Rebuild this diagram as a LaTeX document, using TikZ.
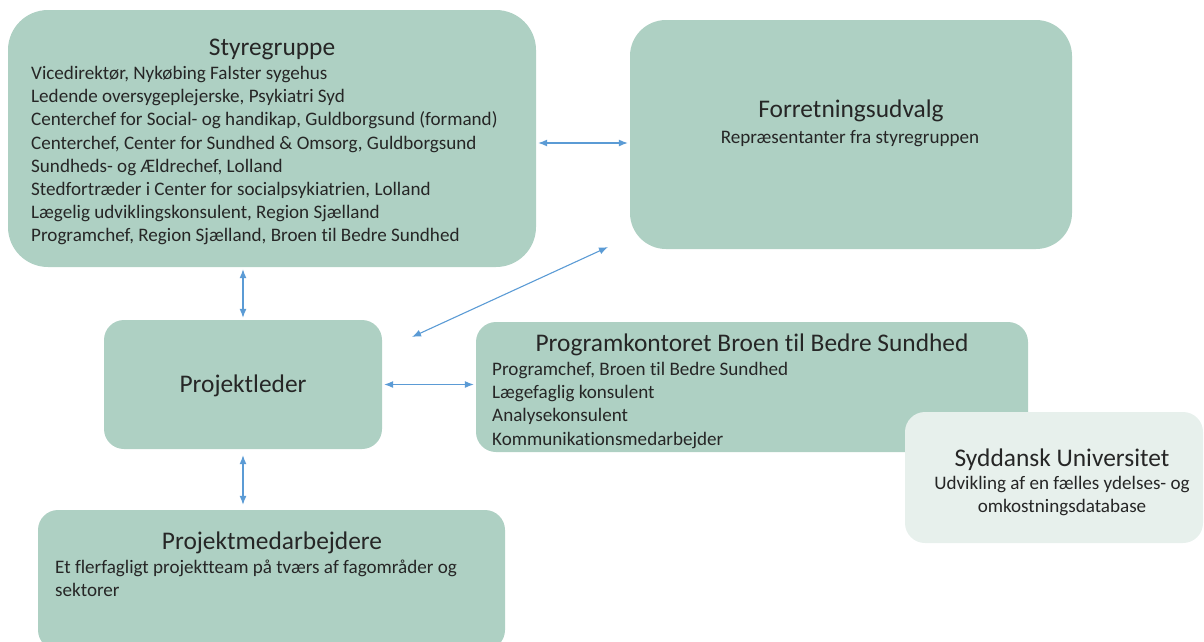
\documentclass[tikz,border=0pt]{standalone}
\usepackage{fontspec}
\setmainfont{Carlito}[Ligatures=NoCommon]
\usetikzlibrary{arrows.meta}

\definecolor{boxgreen}{RGB}{174,208,195}
\definecolor{boxpale}{RGB}{231,240,236}
\definecolor{linkblue}{RGB}{91,155,213}
\definecolor{ink}{RGB}{38,38,38}

\begin{document}
\begin{tikzpicture}[x=1pt,y=-1pt,
  box/.style = {fill=boxgreen, draw=none, inner sep=0pt},
  title/.style = {text=ink, inner sep=0pt, font=\fontsize{25.4}{30}\selectfont},
  items/.style = {text=ink, inner sep=0pt, align=left, font=\fontsize{19.1}{23.2}\selectfont},
  link/.style = {{Latex[length=9pt,width=7pt]}-{Latex[length=9pt,width=7pt]}, draw=linkblue, line width=1.1pt, shorten <=2pt, shorten >=2pt}]
\useasboundingbox (0,0) rectangle (1204,641);
\begin{scope}
\clip (0,0) rectangle (1204,641);
% boxes
\node[box, rounded corners=40pt, minimum width=528pt, minimum height=257pt] (sty) at (272,138.5) {};
\node[box, rounded corners=36pt, minimum width=442pt, minimum height=229pt] (fu) at (851,134.5) {};
\node[box, rounded corners=20pt, minimum width=278pt, minimum height=129pt] (pl) at (243,384.5) {};
\node[box, rounded corners=20pt, minimum width=552pt, minimum height=130pt] (pk) at (752,387) {};
\node[box, fill=boxpale, rounded corners=20pt, minimum width=298pt, minimum height=131pt] (su) at (1054,477.5) {};
\node[box, rounded corners=20pt, minimum width=467pt, minimum height=140pt] (pm) at (271.5,580) {};
\end{scope}

% texts
\node[title, anchor=base] (styT) at (272,55) {Styregruppe};
\node[items, anchor=north west] (styL) at (31,66) {Vicedirektør, Nykøbing Falster sygehus\\
  Ledende oversygeplejerske, Psykiatri Syd\\
  Centerchef for Social- og handikap, Guldborgsund (formand)\\
  Centerchef, Center for Sundhed \& Omsorg, Guldborgsund\\
  Sundheds- og Ældrechef, Lolland\\
  Stedfortræder i Center for socialpsykiatrien, Lolland\\
  Lægelig udviklingskonsulent, Region Sjælland\\
  Programchef, Region Sjælland, Broen til Bedre Sundhed};

\node[title, anchor=base] (fuT) at (851,117) {Forretningsudvalg};
\node[items, anchor=base] (fuL) at (850,143) {Repræsentanter fra styregruppen};

\node[title, anchor=base] (plT) at (243,392) {Projektleder};

\node[title, anchor=base] (pkT) at (752,351) {Programkontoret Broen til Bedre Sundhed};
\node[items, anchor=north west] (pkL) at (492,362) {Programchef, Broen til Bedre Sundhed\\
  Lægefaglig konsulent\\
  Analysekonsulent\\
  Kommunikationsmedarbejder};

\node[title, anchor=base] (suT) at (1062,466) {Syddansk Universitet};
\node[items, align=center, anchor=north] (suL) at (1062,476) {Udvikling af en fælles ydelses- og\\
  omkostningsdatabase};

\node[title, anchor=base] (pmT) at (272,549) {Projektmedarbejdere};
\node[items, anchor=north west] (pmL) at (55,559.5) {Et flerfagligt projektteam på tværs af fagområder og\\
  sektorer};

% connectors
\draw[link] ([yshift=-4.5pt]sty.east) -- ([yshift=-8.5pt]fu.west);
\draw[link] (sty.south -| pl.north) -- (pl.north);
\draw[link] ([xshift=-20pt,yshift=3pt]fu.south west) -- ([xshift=28pt,yshift=-18pt]pl.north east);
\draw[link] (pl.east) -- (pl.east -| pk.west);
\draw[link, shorten <=6pt, shorten >=5pt] (pl.south) -- (pl.south |- pm.north);
\end{tikzpicture}
\end{document}
